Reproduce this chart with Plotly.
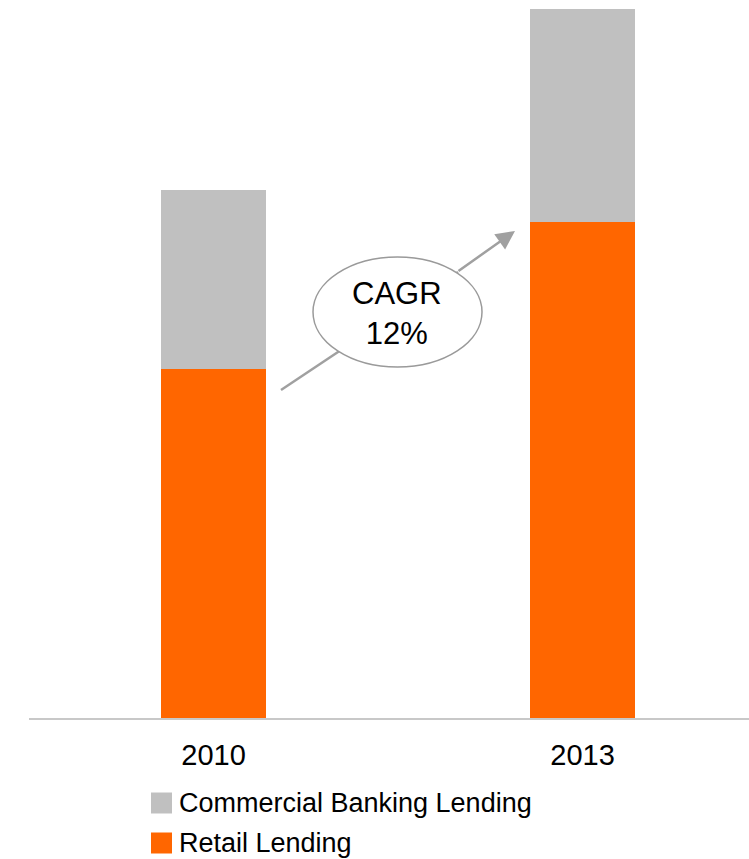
import plotly.graph_objects as go

# Lending volumes by segment (arbitrary units)
years = ["2010", "2013"]
retail_lending = [34.9, 49.6]
commercial_lending = [17.9, 21.3]
series_names = ["Commercial Banking Lending", "Retail Lending"]
series_colors = ["#c0c0c0", "#ff6600"]
cagr_label = "CAGR<br>12%"

FONT = "Arial, Liberation Sans, sans-serif"
W, H = 749, 859
ML, MR, MT, MB = 29, 0, 0, 141
PW, PH = W - ML - MR, H - MT - MB


def px(x):
    return (x - ML) / PW


def py(y):
    return (H - MB - y) / PH


fig = go.Figure()
fig.add_trace(go.Bar(x=years, y=retail_lending, name=series_names[1],
                     marker=dict(color=series_colors[1], line=dict(width=0)),
                     width=0.2846, showlegend=False))
fig.add_trace(go.Bar(x=years, y=commercial_lending, name=series_names[0],
                     marker=dict(color=series_colors[0], line=dict(width=0)),
                     width=0.2846, showlegend=False))

shapes = []
annotations = []

# growth arrow: shaft behind the bubble, head drawn as an annotation arrow
arrow_col = "#a0a0a0"
shapes.append(dict(type="line", xref="paper", yref="paper",
                   x0=px(281), y0=py(390), x1=px(458), y1=py(272),
                   line=dict(color=arrow_col, width=2.5), layer="above"))
shapes.append(dict(type="circle", xref="paper", yref="paper",
                   x0=px(313), x1=px(482), y0=py(367), y1=py(257),
                   fillcolor="white", line=dict(color="#9a9a9a", width=1.5),
                   layer="above"))
annotations.append(dict(xref="paper", yref="paper", x=px(515), y=py(231),
                        ax=457 - 515, ay=272 - 231, text="", showarrow=True,
                        arrowhead=2, arrowsize=1.5, arrowwidth=2.5,
                        arrowcolor=arrow_col, standoff=0))
annotations.append(dict(xref="paper", yref="paper", x=px(397), y=py(313),
                        text=cagr_label, showarrow=False,
                        font=dict(family=FONT, size=31, color="#000000"),
                        xanchor="center", yanchor="middle"))

# legend rows
for i, (name, col) in enumerate(zip(series_names, series_colors)):
    cy = 803 + 40 * i
    shapes.append(dict(type="rect", xref="paper", yref="paper",
                       x0=px(151), x1=px(172), y0=py(cy + 10.5), y1=py(cy - 10.5),
                       fillcolor=col, line=dict(width=0)))
    annotations.append(dict(xref="paper", yref="paper", x=px(177), y=py(cy),
                            text=name, showarrow=False, xanchor="left",
                            yanchor="middle",
                            font=dict(family=FONT, size=27, color="#000000")))

fig.update_layout(
    barmode="stack",
    width=W, height=H,
    margin=dict(l=ML, r=MR, t=MT, b=MB, pad=0),
    paper_bgcolor="white", plot_bgcolor="white",
    shapes=shapes, annotations=annotations,
    font=dict(family=FONT, color="#000000"),
    xaxis=dict(type="category", range=[-0.5, 1.4512], showgrid=False,
               zeroline=False, showline=True, linecolor="#c8c8c8", linewidth=2,
               ticks="", tickfont=dict(family=FONT, size=29, color="#000000"),
               ticklabelstandoff=10),
    yaxis=dict(range=[0, 71.8], visible=False, showgrid=False, zeroline=False),
)

fig.write_html("out.html")
